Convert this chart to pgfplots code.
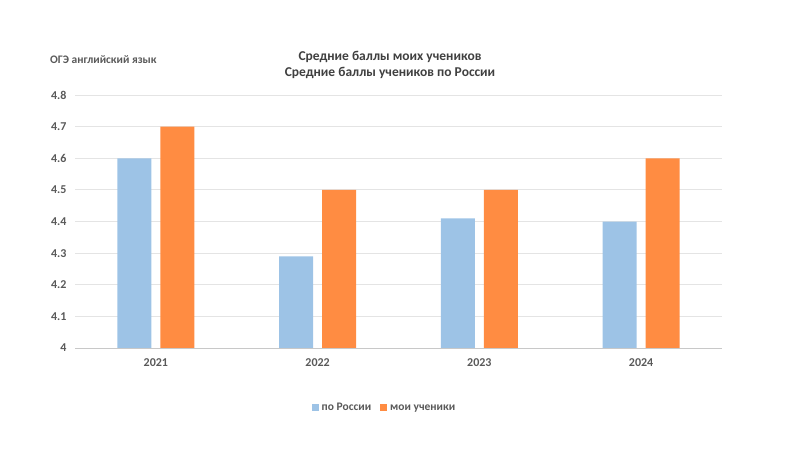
\documentclass[border=0pt]{standalone}
\usepackage{pgfplots}
\pgfplotsset{compat=1.18}
\usepackage{fontspec}
\setmainfont{Carlito}
\definecolor{cblue}{HTML}{9DC3E6}
\definecolor{corange}{HTML}{FF8C42}
\definecolor{tgray}{HTML}{595959}
\definecolor{titlegray}{HTML}{404040}
\definecolor{gridgray}{HTML}{E4E4E4}
\begin{document}
\begin{tikzpicture}[x=1pt,y=1pt]
\useasboundingbox (-75,-102) rectangle (725,348);
\begin{axis}[
  at={(0,0)}, anchor=south west,
  scale only axis, width=647pt, height=253pt,
  ybar=9pt, bar width=34pt,
  xmin=-0.5, xmax=3.5, ymin=4, ymax=4.8,
  xtick=data, xticklabels={2021,2022,2023,2024},
  ytick={4,4.1,4.2,4.3,4.4,4.5,4.6,4.7,4.8},
  yticklabel style={/pgf/number format/fixed,/pgf/number format/precision=1, xshift=-5pt},
  xticklabel style={yshift=-7pt},
  /pgf/number format/assume math mode=true,
  tick label style={font=\fontsize{12}{14}\selectfont\bfseries, text=tgray},
  major tick length=0pt,
  axis line style={draw=none},
  ymajorgrids, grid style={gridgray, line width=0.8pt},
  legend style={at={(0.479,-0.237)}, anchor=center, draw=none, legend columns=2,
    font=\fontsize{11.5}{13}\selectfont\bfseries, text=tgray,
    /tikz/every even column/.append style={column sep=6pt},
    nodes={inner sep=3pt}},
  legend image code/.code={\fill[#1] (0pt,-3.5pt) rectangle (7pt,3.5pt);},
]
\addplot[fill=cblue, draw=none] coordinates {(0,4.6) (1,4.29) (2,4.41) (3,4.4)};
\addplot[fill=corange, draw=none] coordinates {(0,4.7) (1,4.5) (2,4.5) (3,4.6)};
\legend{по России, мои ученики}
\end{axis}
\draw[gridgray!85!black!90, line width=0.8pt] (0,0) -- (647,0);
\node[align=center, font=\fontsize{13.5}{16}\selectfont\bfseries, text=titlegray] at (315,283) {Средние баллы моих учеников\\Средние баллы учеников по России};
\node[anchor=west, font=\fontsize{11.5}{13}\selectfont\bfseries, text=tgray, inner sep=0pt] at (-25,288) {ОГЭ английский язык};
\end{tikzpicture}
\end{document}
